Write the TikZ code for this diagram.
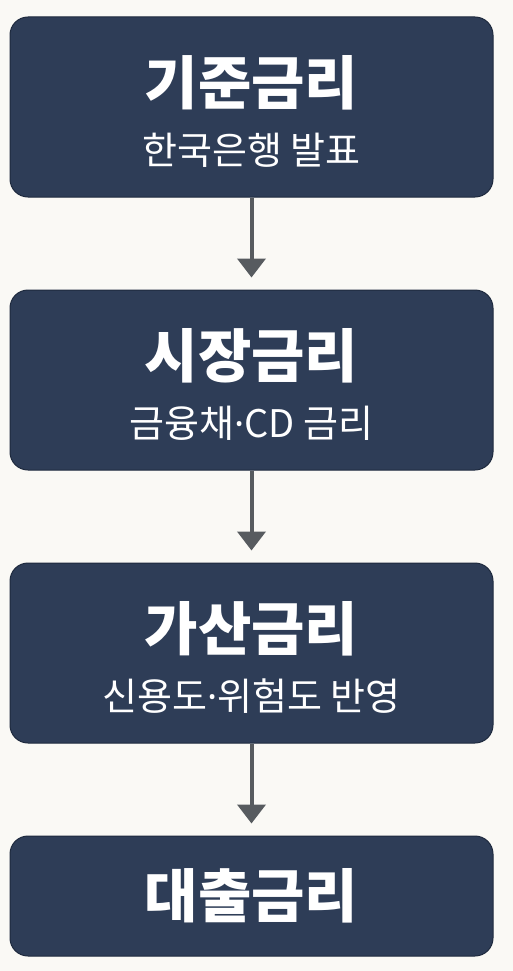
\documentclass[tikz,border=0pt]{standalone}
\usepackage{fontspec}
\setmainfont{Noto Sans CJK KR}
\newfontfamily\latinfont{Noto Sans}
\usetikzlibrary{arrows.meta,positioning}
\definecolor{boxfill}{HTML}{2E3D57}
\definecolor{boxline}{HTML}{1E2A3E}
\definecolor{arrowgray}{HTML}{575B5F}
\definecolor{paper}{HTML}{FAF9F5}
\newcommand{\ratetitle}[1]{{\fontsize{58}{64}\selectfont\bfseries #1}}
\newcommand{\ratesub}[1]{{\fontsize{38}{44}\selectfont #1}}
\newcommand{\middot}{{\latinfont ·}}
\tikzset{
    ratebox/.style={
        rectangle,
        draw=boxline,
        line width=1pt,
        fill=boxfill,
        rounded corners=18pt,
        align=center,
        text=white,
        inner sep=0pt,
        minimum width=483pt,
        minimum height=180pt
    },
    finalbox/.style={ratebox, minimum height=120pt},
    flow/.style={-{Triangle[width=28pt,length=19pt]}, line width=4pt, draw=arrowgray, shorten >=12pt}
}

\begin{document}
\begin{tikzpicture}[
        node distance=92pt
    ]
        \fill[paper] (0,0) rectangle (513pt,-971pt);
        \node[ratebox] (base) at (251.5pt,-107pt) {\rule{0pt}{58pt}\ratetitle{기준금리}\\[22pt]\ratesub{한국은행 발표}};
        \node[ratebox, below=of base] (market) {\rule{0pt}{58pt}\ratetitle{시장금리}\\[22pt]\ratesub{금융채\middot CD 금리}};
        \node[ratebox, below=of market] (spread) {\rule{0pt}{58pt}\ratetitle{가산금리}\\[22pt]\ratesub{신용도\middot 위험도 반영}};
        \node[finalbox, below=of spread] (loan) {\ratetitle{대출금리}};

        \draw[flow] (base) -- (market);
        \draw[flow] (market) -- (spread);
        \draw[flow] (spread) -- (loan);
    \end{tikzpicture}
\end{document}
